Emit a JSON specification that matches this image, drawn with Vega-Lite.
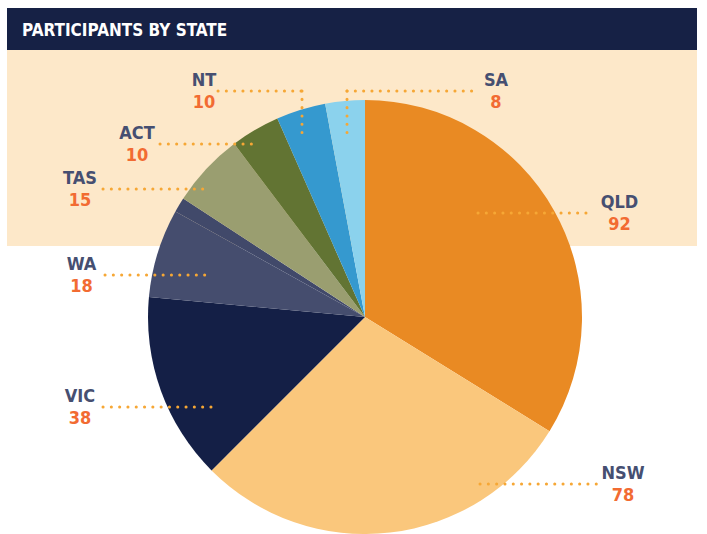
{
  "$schema": "https://vega.github.io/schema/vega-lite/v6.json",
  "width": 690,
  "height": 526,
  "autosize": {"type": "none"},
  "padding": {"left": 7, "top": 8, "right": 10, "bottom": 0},
  "background": "#ffffff",
  "title": {
    "text": "PARTICIPANTS BY STATE",
    "anchor": "start",
    "frame": "group",
    "orient": "top",
    "offset": -32,
    "dx": 15,
    "dy": 13,
    "color": "#ffffff",
    "font": "Liberation Sans Narrow, DejaVu Sans Condensed, sans-serif",
    "fontSize": 17,
    "fontWeight": "bold",
    "baseline": "alphabetic"
  },
  "config": {
    "view": {"stroke": null},
    "axis": {"disable": true},
    "text": {"font": "Liberation Sans Narrow, DejaVu Sans Condensed, sans-serif"}
  },
  "data": {
    "values": [
      {"state": "QLD", "value": 92, "rank": 1},
      {"state": "NSW", "value": 78, "rank": 2},
      {"state": "VIC", "value": 38, "rank": 3},
      {"state": "WA", "value": 18, "rank": 4},
      {"state": "Other", "value": 3, "rank": 5},
      {"state": "TAS", "value": 15, "rank": 6},
      {"state": "ACT", "value": 10, "rank": 7},
      {"state": "NT", "value": 10, "rank": 8},
      {"state": "SA", "value": 8, "rank": 9}
    ]
  },
  "layer": [
    {
      "data": {"values": [{}]},
      "mark": {"type": "rect", "color": "#fde8c9"},
      "encoding": {
        "x": {"datum": -1.6498, "type": "quantitative", "scale": {"domain": [-1.6498, 1.53], "nice": false, "zero": false}},
        "x2": {"datum": 1.53},
        "y": {"datum": 1.2304, "type": "quantitative", "scale": {"domain": [-1.0, 1.424], "nice": false, "zero": false}},
        "y2": {"datum": 0.3272}
      }
    },
    {
      "data": {"values": [{}]},
      "mark": {"type": "rect", "color": "#162145"},
      "encoding": {
        "x": {"datum": -1.6498, "type": "quantitative"},
        "x2": {"datum": 1.53},
        "y": {"datum": 1.424, "type": "quantitative"},
        "y2": {"datum": 1.2304}
      }
    },
    {
      "mark": {"type": "arc", "radius": 217},
      "encoding": {
        "x": {"datum": 0, "type": "quantitative"},
        "y": {"datum": 0, "type": "quantitative"},
        "theta": {"field": "value", "type": "quantitative", "stack": true},
        "order": {"field": "rank", "type": "quantitative", "sort": "ascending"},
        "color": {
          "field": "state",
          "type": "nominal",
          "legend": null,
          "scale": {
            "domain": ["QLD", "NSW", "VIC", "WA", "Other", "TAS", "ACT", "NT", "SA"],
            "range": ["#e98a23", "#fac77c", "#141f46", "#454d6e", "#41496a", "#9a9e70", "#627433", "#3599cf", "#8bd2ed"]
          }
        }
      }
    },
    {
      "transform": [{"filter": "datum.state === 'QLD'"}],
      "encoding": {"x": {"datum": 1.1728, "type": "quantitative"}, "y": {"datum": 0.4793, "type": "quantitative"}},
      "layer": [
        {"mark": {"type": "rule", "color": "#f6a735", "strokeWidth": 3, "strokeCap": "round", "strokeDash": [0.1, 8.2]}, "encoding": {"x": {"datum": 0.5207, "type": "quantitative"}, "x2": {"datum": 1.0553}}},
        {"mark": {"type": "text", "color": "#464f71", "fontSize": 18, "fontWeight": "bold", "align": "center", "baseline": "middle", "dy": -10}, "encoding": {"text": {"field": "state"}}},
        {"mark": {"type": "text", "color": "#f26b32", "fontSize": 18, "fontWeight": "bold", "align": "center", "baseline": "middle", "dy": 12}, "encoding": {"text": {"field": "value"}}}
      ]
    },
    {
      "transform": [{"filter": "datum.state === 'NSW'"}],
      "encoding": {"x": {"datum": 1.1889, "type": "quantitative"}, "y": {"datum": -0.7696, "type": "quantitative"}},
      "layer": [
        {"mark": {"type": "rule", "color": "#f6a735", "strokeWidth": 3, "strokeCap": "round", "strokeDash": [0.1, 8.2]}, "encoding": {"x": {"datum": 0.53, "type": "quantitative"}, "x2": {"datum": 1.0691}}},
        {"mark": {"type": "text", "color": "#464f71", "fontSize": 18, "fontWeight": "bold", "align": "center", "baseline": "middle", "dy": -10}, "encoding": {"text": {"field": "state"}}},
        {"mark": {"type": "text", "color": "#f26b32", "fontSize": 18, "fontWeight": "bold", "align": "center", "baseline": "middle", "dy": 12}, "encoding": {"text": {"field": "value"}}}
      ]
    },
    {
      "transform": [{"filter": "datum.state === 'VIC'"}],
      "encoding": {"x": {"datum": -1.3134, "type": "quantitative"}, "y": {"datum": -0.4147, "type": "quantitative"}},
      "layer": [
        {"mark": {"type": "rule", "color": "#f6a735", "strokeWidth": 3, "strokeCap": "round", "strokeDash": [0.1, 8.2]}, "encoding": {"x": {"datum": -1.2074, "type": "quantitative"}, "x2": {"datum": -0.6774}}},
        {"mark": {"type": "text", "color": "#464f71", "fontSize": 18, "fontWeight": "bold", "align": "center", "baseline": "middle", "dy": -10}, "encoding": {"text": {"field": "state"}}},
        {"mark": {"type": "text", "color": "#f26b32", "fontSize": 18, "fontWeight": "bold", "align": "center", "baseline": "middle", "dy": 12}, "encoding": {"text": {"field": "value"}}}
      ]
    },
    {
      "transform": [{"filter": "datum.state === 'WA'"}],
      "encoding": {"x": {"datum": -1.3065, "type": "quantitative"}, "y": {"datum": 0.1935, "type": "quantitative"}},
      "layer": [
        {"mark": {"type": "rule", "color": "#f6a735", "strokeWidth": 3, "strokeCap": "round", "strokeDash": [0.1, 8.2]}, "encoding": {"x": {"datum": -1.1982, "type": "quantitative"}, "x2": {"datum": -0.7143}}},
        {"mark": {"type": "text", "color": "#464f71", "fontSize": 18, "fontWeight": "bold", "align": "center", "baseline": "middle", "dy": -10}, "encoding": {"text": {"field": "state"}}},
        {"mark": {"type": "text", "color": "#f26b32", "fontSize": 18, "fontWeight": "bold", "align": "center", "baseline": "middle", "dy": 12}, "encoding": {"text": {"field": "value"}}}
      ]
    },
    {
      "transform": [{"filter": "datum.state === 'TAS'"}],
      "encoding": {"x": {"datum": -1.3134, "type": "quantitative"}, "y": {"datum": 0.5899, "type": "quantitative"}},
      "layer": [
        {"mark": {"type": "rule", "color": "#f6a735", "strokeWidth": 3, "strokeCap": "round", "strokeDash": [0.1, 8.2]}, "encoding": {"x": {"datum": -1.2074, "type": "quantitative"}, "x2": {"datum": -0.7143}}},
        {"mark": {"type": "text", "color": "#464f71", "fontSize": 18, "fontWeight": "bold", "align": "center", "baseline": "middle", "dy": -10}, "encoding": {"text": {"field": "state"}}},
        {"mark": {"type": "text", "color": "#f26b32", "fontSize": 18, "fontWeight": "bold", "align": "center", "baseline": "middle", "dy": 12}, "encoding": {"text": {"field": "value"}}}
      ]
    },
    {
      "transform": [{"filter": "datum.state === 'ACT'"}],
      "encoding": {"x": {"datum": -1.0507, "type": "quantitative"}, "y": {"datum": 0.7972, "type": "quantitative"}},
      "layer": [
        {"mark": {"type": "rule", "color": "#f6a735", "strokeWidth": 3, "strokeCap": "round", "strokeDash": [0.1, 8.2]}, "encoding": {"x": {"datum": -0.9447, "type": "quantitative"}, "x2": {"datum": -0.4931}}},
        {"mark": {"type": "text", "color": "#464f71", "fontSize": 18, "fontWeight": "bold", "align": "center", "baseline": "middle", "dy": -10}, "encoding": {"text": {"field": "state"}}},
        {"mark": {"type": "text", "color": "#f26b32", "fontSize": 18, "fontWeight": "bold", "align": "center", "baseline": "middle", "dy": 12}, "encoding": {"text": {"field": "value"}}}
      ]
    },
    {
      "transform": [{"filter": "datum.state === 'NT'"}],
      "encoding": {"x": {"datum": -0.7419, "type": "quantitative"}, "y": {"datum": 1.0415, "type": "quantitative"}},
      "layer": [
        {"mark": {"type": "rule", "color": "#f6a735", "strokeWidth": 3, "strokeCap": "round", "strokeDash": [0.1, 8.2]}, "encoding": {"x": {"datum": -0.6774, "type": "quantitative"}, "x2": {"datum": -0.2903}}},
        {"mark": {"type": "rule", "color": "#f6a735", "strokeWidth": 3, "strokeCap": "round", "strokeDash": [0.1, 8.2]}, "encoding": {"x": {"datum": -0.2903, "type": "quantitative"}, "y2": {"datum": 0.8387}}},
        {"mark": {"type": "text", "color": "#464f71", "fontSize": 18, "fontWeight": "bold", "align": "center", "baseline": "middle", "dy": -10}, "encoding": {"text": {"field": "state"}}},
        {"mark": {"type": "text", "color": "#f26b32", "fontSize": 18, "fontWeight": "bold", "align": "center", "baseline": "middle", "dy": 12}, "encoding": {"text": {"field": "value"}}}
      ]
    },
    {
      "transform": [{"filter": "datum.state === 'SA'"}],
      "encoding": {"x": {"datum": 0.6037, "type": "quantitative"}, "y": {"datum": 1.0415, "type": "quantitative"}},
      "layer": [
        {"mark": {"type": "rule", "color": "#f6a735", "strokeWidth": 3, "strokeCap": "round", "strokeDash": [0.1, 8.2]}, "encoding": {"x": {"datum": -0.0829, "type": "quantitative"}, "x2": {"datum": 0.5253}}},
        {"mark": {"type": "rule", "color": "#f6a735", "strokeWidth": 3, "strokeCap": "round", "strokeDash": [0.1, 8.2]}, "encoding": {"x": {"datum": -0.0829, "type": "quantitative"}, "y2": {"datum": 0.8387}}},
        {"mark": {"type": "text", "color": "#464f71", "fontSize": 18, "fontWeight": "bold", "align": "center", "baseline": "middle", "dy": -10}, "encoding": {"text": {"field": "state"}}},
        {"mark": {"type": "text", "color": "#f26b32", "fontSize": 18, "fontWeight": "bold", "align": "center", "baseline": "middle", "dy": 12}, "encoding": {"text": {"field": "value"}}}
      ]
    }
  ]
}
